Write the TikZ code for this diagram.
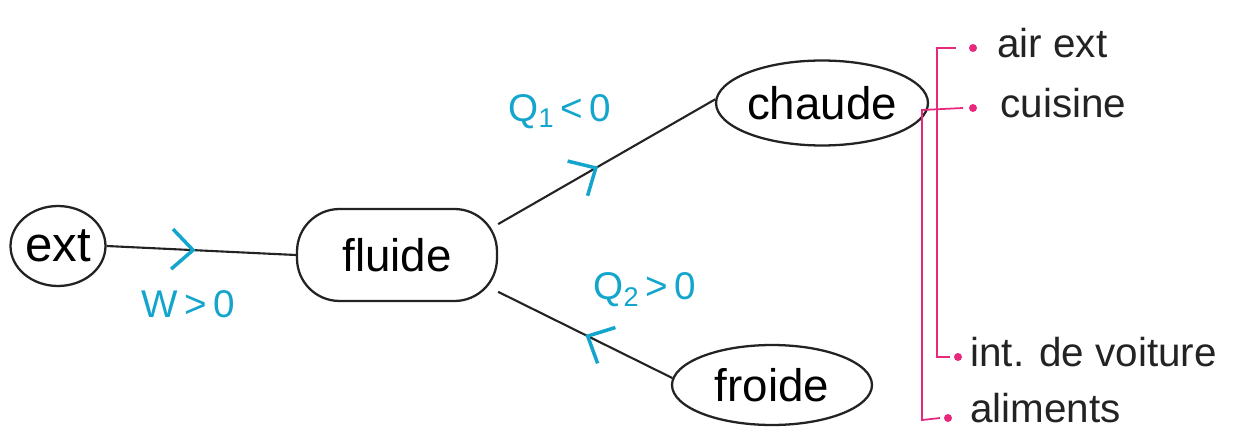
\documentclass[tikz,border=0pt]{standalone}
\usepackage{fontspec}
\setmainfont{Liberation Sans}
\usetikzlibrary{shapes.geometric,arrows.meta,decorations.markings}
\definecolor{ink}{RGB}{35,35,35}
\definecolor{cyanink}{RGB}{20,165,205}
\definecolor{pinkink}{RGB}{232,40,125}
\tikzset{
  blob/.style={draw=ink, line width=1.3pt, ellipse, inner sep=0pt, font=\fontsize{26}{30}\selectfont},
  pill/.style={draw=ink, line width=1.3pt, rectangle, rounded corners=0.85cm, minimum width=4cm, minimum height=1.84cm, font=\fontsize{26}{30}\selectfont},
  link/.style={draw=ink, line width=1.2pt},
  midarrow/.style={postaction={decorate}, decoration={markings, mark=at position #1 with {\arrow[cyanink, line width=2pt]{Straight Barb[length=0.42cm, width=0.8cm]}}}},
  qlabel/.style={text=cyanink, font=\fontsize{22}{26}\selectfont},
  bracket/.style={draw=pinkink, line width=1pt},
  pdot/.style={circle, fill=pinkink, inner sep=0pt, minimum size=0.16cm},
  item/.style={anchor=west, font=\fontsize{23}{27}\selectfont, text=ink, inner sep=0pt}
}
\begin{document}
\begin{tikzpicture}[x=0.02cm, y=-0.02cm]
\useasboundingbox (0,0) rectangle (1236,432);
% nodes
\node[blob, minimum width=1.9cm, minimum height=1.6cm, font=\fontsize{28}{32}\selectfont] (ext) at (58,246) {ext};
\node[pill] (fluide) at (397,255) {fluide};
\node[blob, minimum width=3.8cm, minimum height=1.7cm] (chaude) at (822,103) {chaude};
\node[blob, minimum width=4cm, minimum height=1.6cm] (froide) at (772,385) {froide};
% connectors
\draw[link, midarrow=0.47] (ext.east) -- (fluide.west);
\draw[link, midarrow=0.46] (fluide.17) -- (chaude.178);
\draw[link, midarrow=0.5] (froide.176) -- (fluide.-20);
% labels
\node[qlabel] (w) at (188,304) {W\,>\,0};
\node[qlabel] (q1) at (560,112) {Q\textsubscript{1}\,<\,0};
\node[qlabel] (q2) at (645,290) {Q\textsubscript{2}\,>\,0};
% list
\node[pdot] (d1) at (973,48) {};
\node[pdot] (d2) at (973,108) {};
\node[pdot] (d3) at (958,357) {};
\node[pdot] (d4) at (948,418) {};
\node[item] (t1) at (997,43) {air ext};
\node[item] (t2) at (1000,103) {cuisine};
\node[item] (t3) at (970,352) {int. de voiture};
\node[item] (t4) at (970,408) {aliments};
% brackets
\draw[bracket] ([xshift=-0.34cm]d1.center) -- (937,48) -- (937,357) -- ([xshift=-0.16cm]d3.center);
\draw[bracket] ([xshift=-0.2cm]d2.center) -- (922,110) -- (922,420) -- ([xshift=-0.16cm]d4.center);
\end{tikzpicture}
\end{document}
